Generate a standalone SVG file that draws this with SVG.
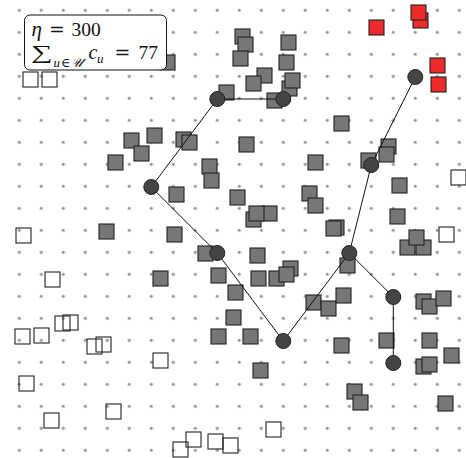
<svg xmlns="http://www.w3.org/2000/svg" width="466" height="458" viewBox="0 0 466 458">
<style>
.g{fill:#777;stroke:#222;stroke-width:1.1}
.w{fill:none;stroke:#222;stroke-width:1.1}
.r{fill:#ee2b2b;stroke:#222;stroke-width:1.1}
.n{fill:#444;stroke:#222;stroke-width:1}
.e{stroke:#111;stroke-width:1;fill:none}
.t{font-family:"Liberation Serif","DejaVu Serif",serif;fill:#111}
.eq{font-family:"DejaVu Serif","Liberation Serif",serif;fill:#111}
</style>
<defs>
<pattern id="dots" x="8.3" y="-0.7" width="22" height="22" patternUnits="userSpaceOnUse">
<circle cx="11" cy="11" r="1.6" fill="#8c8c8c"/>
</pattern>
</defs>
<rect width="466" height="458" fill="#fff"/>
<rect width="466" height="458" fill="url(#dots)"/>
<g id="gray-points">
<rect class="g" x="160" y="55" width="15" height="15"/>
<rect class="g" x="219" y="85" width="15" height="15"/>
<rect class="g" x="235" y="29" width="15" height="15"/>
<rect class="g" x="238" y="37" width="15" height="15"/>
<rect class="g" x="233" y="51" width="15" height="15"/>
<rect class="g" x="281" y="35" width="15" height="15"/>
<rect class="g" x="279" y="55" width="15" height="15"/>
<rect class="g" x="257" y="68" width="15" height="15"/>
<rect class="g" x="246" y="76" width="15" height="15"/>
<rect class="g" x="282" y="81" width="15" height="15"/>
<rect class="g" x="285" y="73" width="15" height="15"/>
<rect class="g" x="267" y="93" width="15" height="15"/>
<rect class="g" x="334" y="116" width="15" height="15"/>
<rect class="g" x="239" y="137" width="15" height="15"/>
<rect class="g" x="381" y="139" width="15" height="15"/>
<rect class="g" x="379" y="147" width="15" height="15"/>
<rect class="g" x="124" y="133" width="15" height="15"/>
<rect class="g" x="147" y="128" width="15" height="15"/>
<rect class="g" x="176" y="132" width="15" height="15"/>
<rect class="g" x="182" y="135" width="15" height="15"/>
<rect class="g" x="134" y="146" width="15" height="15"/>
<rect class="g" x="108" y="155" width="15" height="15"/>
<rect class="g" x="202" y="159" width="15" height="15"/>
<rect class="g" x="204" y="173" width="15" height="15"/>
<rect class="g" x="169" y="187" width="15" height="15"/>
<rect class="g" x="230" y="190" width="15" height="15"/>
<rect class="g" x="99" y="224" width="15" height="15"/>
<rect class="g" x="167" y="227" width="15" height="15"/>
<rect class="g" x="198" y="246" width="15" height="15"/>
<rect class="g" x="153" y="271" width="15" height="15"/>
<rect class="g" x="211" y="268" width="15" height="15"/>
<rect class="g" x="228" y="285" width="15" height="15"/>
<rect class="g" x="308" y="155" width="15" height="15"/>
<rect class="g" x="361" y="153" width="15" height="15"/>
<rect class="g" x="392" y="178" width="15" height="15"/>
<rect class="g" x="302" y="186" width="15" height="15"/>
<rect class="g" x="308" y="198" width="15" height="15"/>
<rect class="g" x="262" y="206" width="15" height="15"/>
<rect class="g" x="246" y="212" width="15" height="15"/>
<rect class="g" x="249" y="206" width="15" height="15"/>
<rect class="g" x="390" y="209" width="15" height="15"/>
<rect class="g" x="329" y="220" width="15" height="15"/>
<rect class="g" x="326" y="221" width="15" height="15"/>
<rect class="g" x="400" y="240" width="15" height="15"/>
<rect class="g" x="416" y="240" width="15" height="15"/>
<rect class="g" x="409" y="230" width="15" height="15"/>
<rect class="g" x="250" y="248" width="15" height="15"/>
<rect class="g" x="340" y="258" width="15" height="15"/>
<rect class="g" x="251" y="271" width="15" height="15"/>
<rect class="g" x="269" y="271" width="15" height="15"/>
<rect class="g" x="283" y="261" width="15" height="15"/>
<rect class="g" x="279" y="267" width="15" height="15"/>
<rect class="g" x="306" y="295" width="15" height="15"/>
<rect class="g" x="321" y="301" width="15" height="15"/>
<rect class="g" x="336" y="288" width="15" height="15"/>
<rect class="g" x="416" y="294" width="15" height="15"/>
<rect class="g" x="422" y="299" width="15" height="15"/>
<rect class="g" x="436" y="291" width="15" height="15"/>
<rect class="g" x="226" y="310" width="15" height="15"/>
<rect class="g" x="211" y="329" width="15" height="15"/>
<rect class="g" x="243" y="329" width="15" height="15"/>
<rect class="g" x="334" y="338" width="15" height="15"/>
<rect class="g" x="379" y="333" width="15" height="15"/>
<rect class="g" x="422" y="333" width="15" height="15"/>
<rect class="g" x="444" y="348" width="15" height="15"/>
<rect class="g" x="253" y="363" width="15" height="15"/>
<rect class="g" x="416" y="359" width="15" height="15"/>
<rect class="g" x="422" y="357" width="15" height="15"/>
<rect class="g" x="347" y="384" width="15" height="15"/>
<rect class="g" x="353" y="395" width="15" height="15"/>
<rect class="g" x="438" y="396" width="15" height="15"/>
</g>
<g id="open-points">
<rect class="w" x="23" y="72" width="15" height="15"/>
<rect class="w" x="42" y="72" width="15" height="15"/>
<rect class="w" x="451" y="170" width="15" height="15"/>
<rect class="w" x="439" y="227" width="15" height="15"/>
<rect class="w" x="16" y="228" width="15" height="15"/>
<rect class="w" x="45" y="272" width="15" height="15"/>
<rect class="w" x="55" y="316" width="15" height="15"/>
<rect class="w" x="63" y="315" width="15" height="15"/>
<rect class="w" x="15" y="329" width="15" height="15"/>
<rect class="w" x="34" y="328" width="15" height="15"/>
<rect class="w" x="87" y="339" width="15" height="15"/>
<rect class="w" x="96" y="337" width="15" height="15"/>
<rect class="w" x="153" y="353" width="15" height="15"/>
<rect class="w" x="19" y="376" width="15" height="15"/>
<rect class="w" x="106" y="404" width="15" height="15"/>
<rect class="w" x="44" y="413" width="15" height="15"/>
<rect class="w" x="186" y="432" width="15" height="15"/>
<rect class="w" x="173" y="442" width="15" height="15"/>
<rect class="w" x="208" y="434" width="15" height="15"/>
<rect class="w" x="223" y="438" width="15" height="15"/>
<rect class="w" x="266" y="422" width="15" height="15"/>
</g>
<g id="red-points">
<rect class="r" x="413" y="13" width="15" height="15"/>
<rect class="r" x="411" y="5" width="15" height="15"/>
<rect class="r" x="369" y="20" width="15" height="15"/>
<rect class="r" x="430" y="58" width="15" height="15"/>
<rect class="r" x="431" y="77" width="15" height="15"/>
</g>
<g id="connectors" class="e">
<line x1="217.3" y1="99" x2="283.3" y2="99"/>
<line x1="217.3" y1="99" x2="151.3" y2="187"/>
<line x1="151.3" y1="187" x2="217.3" y2="253"/>
<line x1="217.3" y1="253" x2="283.3" y2="341"/>
<line x1="283.3" y1="341" x2="349.3" y2="253"/>
<line x1="349.3" y1="253" x2="371.3" y2="165"/>
<line x1="371.3" y1="165" x2="415.3" y2="77"/>
<line x1="349.3" y1="253" x2="393.3" y2="297"/>
<line x1="393.3" y1="297" x2="393.3" y2="363"/>
</g>
<g id="n1"><circle class="n" cx="217.3" cy="99" r="7.5"/></g>
<g id="n2"><circle class="n" cx="283.3" cy="99" r="7.5"/></g>
<g id="n3"><circle class="n" cx="415.3" cy="77" r="7.5"/></g>
<g id="n4"><circle class="n" cx="151.3" cy="187" r="7.5"/></g>
<g id="n5"><circle class="n" cx="217.3" cy="253" r="7.5"/></g>
<g id="n6"><circle class="n" cx="371.3" cy="165" r="7.5"/></g>
<g id="n7"><circle class="n" cx="349.3" cy="253" r="7.5"/></g>
<g id="n8"><circle class="n" cx="283.3" cy="341" r="7.5"/></g>
<g id="n9"><circle class="n" cx="393.3" cy="297" r="7.5"/></g>
<g id="n10"><circle class="n" cx="393.3" cy="363" r="7.5"/></g>
<g id="label">
<rect x="24.5" y="15" width="142" height="55" rx="5.5" fill="#fff" stroke="#111" stroke-width="1"/>
<text class="t" font-size="21" font-style="italic" x="31.5" y="35.5">η</text>
<text class="eq" font-size="19" x="49" y="35.5">=</text>
<text class="t" font-size="19.5" x="71.5" y="35.5">300</text>
<text class="t" font-size="20" x="31" y="58.5" textLength="21.5" lengthAdjust="spacingAndGlyphs">∑</text>
<text class="t" font-size="13" font-style="italic"><tspan x="53.5" y="66.5">u</tspan><tspan x="61" y="66.5" font-style="normal">∈</tspan><tspan x="71" y="66.5">𝒰</tspan></text>
<text class="t" font-size="20" font-style="italic" x="88.5" y="58.5">c<tspan x="97" y="63" font-size="13">u</tspan></text>
<text class="eq" font-size="19" x="114.5" y="58.5">=</text>
<text class="t" font-size="19.5" x="138.5" y="58.5">77</text>
</g>
</svg>
